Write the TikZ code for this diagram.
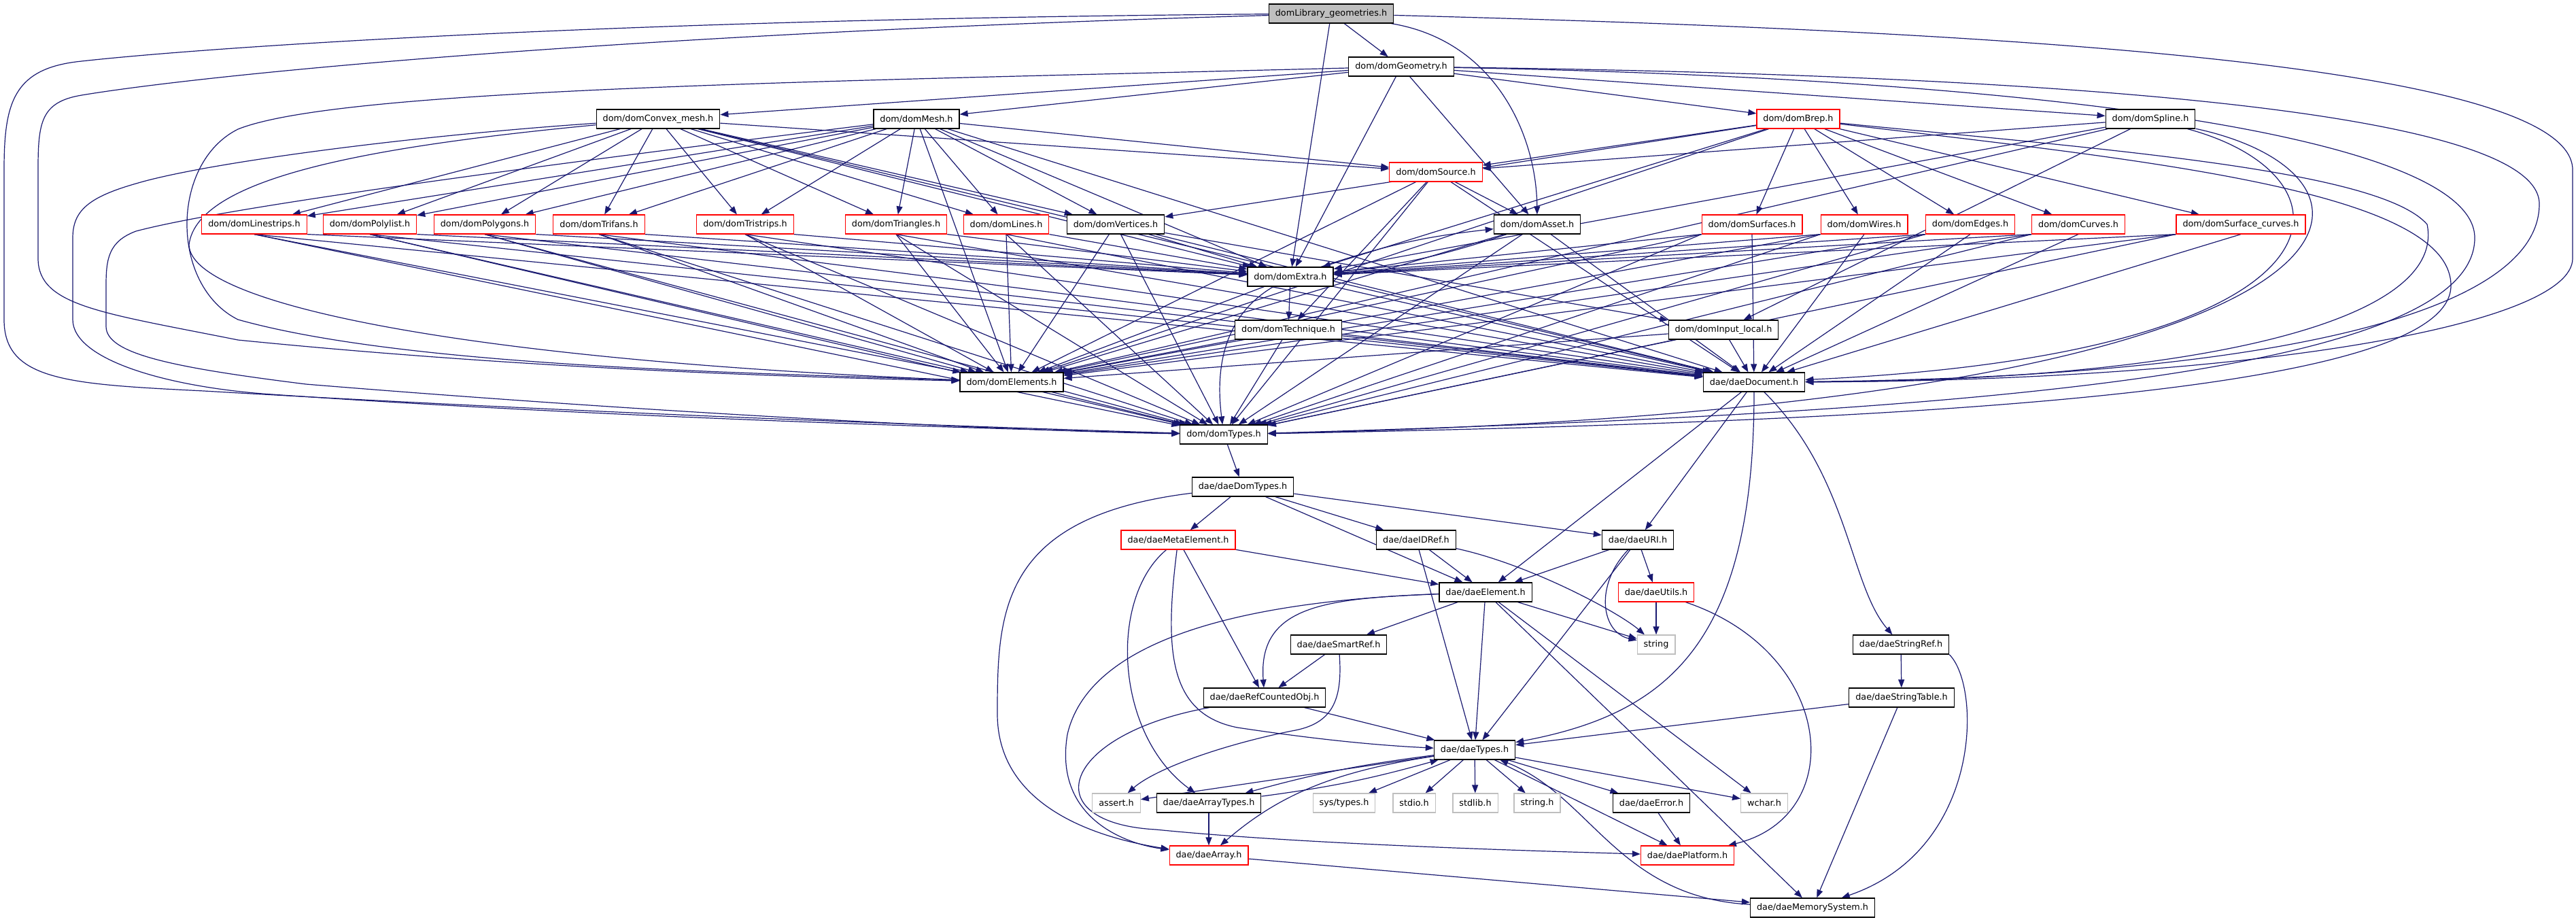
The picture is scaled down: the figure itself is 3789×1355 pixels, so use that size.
\documentclass[tikz,border=0pt]{standalone}
\usepackage{fontspec}
\setmainfont{DejaVu Sans}
\usetikzlibrary{arrows.meta, backgrounds}
\definecolor{edgeblue}{rgb}{0.098, 0.098, 0.439}
\definecolor{boxgray}{rgb}{0.75, 0.75, 0.75}

\begin{document}
\begin{tikzpicture}[x=1pt, y=-1pt,
  hdr/.style={draw, line width=1.2pt, fill=white, minimum height=28pt, inner xsep=9.5pt, inner ysep=0pt, font=\fontsize{12.8}{15}\selectfont},
  hdrred/.style={hdr, draw=red},
  hdrsys/.style={hdr, draw=boxgray},
  hdrroot/.style={hdr, fill=boxgray},
  incl/.style={draw=edgeblue, line width=1.2pt, -{Triangle[length=12pt, width=9pt]}}]
\useasboundingbox (0, 0) rectangle (3789, 1355);
\node [hdrroot] (lib) at (1958, 20) {domLibrary\_geometries.h};
\node [hdr] (geom) at (2061, 98) {dom/domGeometry.h};
\node [hdr] (convex) at (968, 175) {dom/domConvex\_mesh.h};
\node [hdr] (mesh) at (1348, 175) {dom/domMesh.h};
\node [hdrred] (brep) at (2645, 175) {dom/domBrep.h};
\node [hdr] (spline) at (3163, 175) {dom/domSpline.h};
\node [hdrred] (source) at (2112, 253) {dom/domSource.h};
\node [hdrred] (linestrips) at (374, 330) {dom/domLinestrips.h};
\node [hdrred] (polylist) at (544, 330) {dom/domPolylist.h};
\node [hdrred] (polygons) at (713, 330) {dom/domPolygons.h};
\node [hdrred] (trifans) at (881, 330) {dom/domTrifans.h};
\node [hdrred] (tristrips) at (1096, 330) {dom/domTristrips.h};
\node [hdrred] (triangles) at (1318, 330) {dom/domTriangles.h};
\node [hdrred] (lines) at (1480, 330) {dom/domLines.h};
\node [hdr] (vertices) at (1641, 330) {dom/domVertices.h};
\node [hdr] (asset) at (2261, 330) {dom/domAsset.h};
\node [hdrred] (surfaces) at (2577, 330) {dom/domSurfaces.h};
\node [hdrred] (wires) at (2742, 330) {dom/domWires.h};
\node [hdrred] (edges) at (2898, 330) {dom/domEdges.h};
\node [hdrred] (curves) at (3057, 330) {dom/domCurves.h};
\node [hdrred] (surfcurves) at (3296, 330) {dom/domSurface\_curves.h};
\node [hdr] (extra) at (1898, 407) {dom/domExtra.h};
\node [hdr] (technique) at (1895, 485) {dom/domTechnique.h};
\node [hdr] (inputlocal) at (2535, 485) {dom/domInput\_local.h};
\node [hdr] (elements) at (1488, 562) {dom/domElements.h};
\node [hdr] (document) at (2580, 562) {dae/daeDocument.h};
\node [hdr] (domtypes) at (1800, 639) {dom/domTypes.h};
\node [hdr] (daedomtypes) at (1828, 716) {dae/daeDomTypes.h};
\node [hdrred] (metaelement) at (1733, 794) {dae/daeMetaElement.h};
\node [hdr] (idref) at (2083, 794) {dae/daeIDRef.h};
\node [hdr] (uri) at (2409, 794) {dae/daeURI.h};
\node [hdr] (daeelement) at (2185, 871) {dae/daeElement.h};
\node [hdrred] (utils) at (2436, 871) {dae/daeUtils.h};
\node [hdr] (smartref) at (1969, 948) {dae/daeSmartRef.h};
\node [hdrsys] (string) at (2436, 948) {string};
\node [hdr] (stringref) at (2796, 948) {dae/daeStringRef.h};
\node [hdr] (refcounted) at (1860, 1026) {dae/daeRefCountedObj.h};
\node [hdr] (stringtable) at (2797, 1026) {dae/daeStringTable.h};
\node [hdr] (daetypes) at (2169, 1103) {dae/daeTypes.h};
\node [hdrsys] (assert) at (1642, 1181) {assert.h};
\node [hdr] (arraytypes) at (1778, 1181) {dae/daeArrayTypes.h};
\node [hdrsys] (systypes) at (1977, 1181) {sys/types.h};
\node [hdrsys] (stdio) at (2080, 1181) {stdio.h};
\node [hdrsys] (stdlib) at (2170, 1181) {stdlib.h};
\node [hdrsys] (stringh) at (2261, 1181) {string.h};
\node [hdr] (error) at (2429, 1181) {dae/daeError.h};
\node [hdrsys] (wchar) at (2595, 1181) {wchar.h};
\node [hdrred] (array) at (1778, 1258) {dae/daeArray.h};
\node [hdrred] (platform) at (2482, 1258) {dae/daePlatform.h};
\node [hdr] (memory) at (2666, 1335) {dae/daeMemorySystem.h};
\begin{scope}[on background layer]
\foreach \a/\b in {lib/geom, lib/extra, geom/convex, geom/mesh, geom/brep, geom/spline, geom/asset, geom/extra,
  convex/document, mesh/elements, mesh/document, brep/source, brep/vertices, brep/extra, brep/elements,
  brep/surfaces, brep/wires, brep/edges, brep/curves, brep/surfcurves, spline/source, spline/extra,
  spline/inputlocal, spline/elements, source/asset, source/technique, source/elements, source/domtypes,
  source/document, asset/elements, asset/domtypes, asset/document, extra/technique, extra/elements,
  extra/document, technique/elements, technique/domtypes, technique/document, inputlocal/elements,
  inputlocal/domtypes, inputlocal/document, vertices/inputlocal, vertices/extra, vertices/elements,
  vertices/domtypes, vertices/document, elements/domtypes, document/daeelement, document/uri,
  domtypes/daedomtypes, daedomtypes/metaelement, daedomtypes/idref, daedomtypes/uri, daedomtypes/daeelement,
  metaelement/daeelement, metaelement/refcounted, idref/daeelement, idref/daetypes, uri/daeelement,
  uri/utils, uri/daetypes, daeelement/smartref, daeelement/daetypes, daeelement/string, daeelement/wchar,
  daeelement/memory, utils/string, smartref/refcounted, refcounted/daetypes, stringref/stringtable,
  stringtable/daetypes, stringtable/memory, daetypes/assert, daetypes/systypes,
  daetypes/stdio, daetypes/stdlib, daetypes/stringh, daetypes/error, daetypes/wchar, daetypes/platform,
  arraytypes/array, error/platform, array/memory}
  \draw [incl] (\a) -- (\b);
\foreach \a in {convex, mesh}
  \foreach \b in {linestrips, polylist, polygons, trifans, tristrips, triangles, lines, vertices, source, extra}
    \draw [incl] (\a) -- (\b);
\foreach \a in {linestrips, polylist, polygons, trifans, tristrips, triangles, lines} {
  \draw [incl] (\a.south east) -- (extra);
  \draw [incl] (\a.south) -- (elements);
  \draw [incl] (\a.south) -- (domtypes);
  \draw [incl] (\a.south) -- (document);
}
\foreach \a in {surfaces, wires, edges, curves, surfcurves} {
  \draw [incl] (\a.south west) -- (extra);
  \draw [incl] (\a.south west) -- (elements);
  \draw [incl] (\a.south west) -- (domtypes);
  \draw [incl] (\a.south) -- (document);
}
\draw [incl] (lib) .. controls (900, 28) and (300, 70) .. (120, 90) .. controls (20, 100) and (6, 150) .. (6, 250) -- (6, 470) .. controls (6, 560) and (100, 565) .. (300, 575) .. controls (900, 610) and (1500, 630) .. (domtypes);
\draw [incl] (lib) .. controls (900, 50) and (300, 110) .. (120, 140) .. controls (60, 150) and (56, 180) .. (56, 250) -- (56, 380) .. controls (56, 450) and (150, 460) .. (350, 500) .. controls (800, 545) and (1200, 555) .. (elements);
\draw [incl] (convex) .. controls (600, 200) and (300, 240) .. (200, 270) .. controls (130, 290) and (107, 310) .. (107, 350) -- (107, 470) .. controls (107, 530) and (250, 570) .. (400, 580) .. controls (900, 615) and (1500, 632) .. (domtypes);
\draw [incl] (mesh) .. controls (900, 230) and (350, 300) .. (200, 340) .. controls (160, 355) and (156, 380) .. (156, 420) -- (156, 480) .. controls (156, 520) and (250, 540) .. (450, 565) .. controls (1000, 610) and (1500, 634) .. (domtypes);
\draw [incl] (geom) .. controls (1200, 120) and (500, 130) .. (350, 190) .. controls (250, 240) and (250, 420) .. (350, 470) .. controls (600, 540) and (1100, 548) .. (elements);
\draw [incl] (convex) .. controls (550, 215) and (290, 260) .. (278, 360) .. controls (280, 450) and (700, 530) .. (elements);
\draw [incl] (lib) .. controls (2900, 45) and (3784, 90) .. (3784, 250) -- (3784, 380) .. controls (3784, 480) and (3300, 560) .. (document);
\draw [incl] (geom) .. controls (3000, 110) and (3735, 160) .. (3735, 300) .. controls (3735, 470) and (3300, 555) .. (document);
\draw [incl] (geom) .. controls (3000, 115) and (3640, 200) .. (3640, 350) .. controls (3640, 560) and (2800, 610) .. (domtypes);
\draw [incl] (brep) .. controls (3100, 220) and (3500, 250) .. (3570, 330) .. controls (3600, 480) and (3200, 560) .. (document);
\draw [incl] (brep) .. controls (3150, 235) and (3605, 280) .. (3605, 420) .. controls (3605, 580) and (2800, 620) .. (domtypes);
\draw [incl] (spline) .. controls (3480, 260) and (3480, 520) .. (document);
\draw [incl] (spline) .. controls (3560, 260) and (3560, 600) .. (domtypes);
\draw [incl] (lib) .. controls (2200, 60) and (2260, 200) .. (asset);
\draw [incl] (extra) to [bend left=6] (asset);
\draw [incl] (asset) to [bend left=6] (extra);
\draw [incl] (extra) .. controls (1790, 470) and (1790, 560) .. (domtypes);
\draw [incl] (document) .. controls (2580, 950) and (2450, 1050) .. (daetypes);
\draw [incl] (document) .. controls (2720, 700) and (2720, 860) .. (stringref);
\draw [incl] (daedomtypes) .. controls (1470, 760) and (1467, 900) .. (1467, 1050) .. controls (1467, 1180) and (1600, 1230) .. (array);
\draw [incl] (metaelement) .. controls (1630, 880) and (1640, 1080) .. (arraytypes);
\draw [incl] (metaelement) .. controls (1712, 960) and (1720, 1050) .. (1820, 1070) .. controls (1900, 1082) and (2000, 1095) .. (daetypes);
\draw [incl] (idref) .. controls (2250, 830) and (2380, 900) .. (string);
\draw [incl] (uri) .. controls (2345, 860) and (2355, 930) .. (string);
\draw [incl] (daeelement) .. controls (1950, 880) and (1850, 890) .. (refcounted);
\draw [incl] (daeelement) .. controls (1800, 885) and (1600, 950) .. (1570, 1080) .. controls (1550, 1200) and (1650, 1240) .. (array);
\draw [incl] (utils) .. controls (2700, 960) and (2720, 1200) .. (platform);
\draw [incl] (smartref) .. controls (1975, 1030) and (1960, 1065) .. (1900, 1075) .. controls (1800, 1095) and (1700, 1130) .. (assert);
\draw [incl] (refcounted) .. controls (1560, 1080) and (1520, 1210) .. (1700, 1220) .. controls (1900, 1240) and (2200, 1250) .. (platform);
\draw [incl] (stringref.south east) .. controls (2915, 1010) and (2915, 1250) .. (memory);
\draw [incl] (memory) .. controls (2380, 1320) and (2340, 1170) .. (daetypes);
\draw [incl] (daetypes) .. controls (1960, 1135) and (1880, 1170) .. (array);
\draw [incl] (daetypes) to [bend right=4] (arraytypes);
\draw [incl] (arraytypes) to [bend right=4] (daetypes);
\end{scope}
\end{tikzpicture}
\end{document}
